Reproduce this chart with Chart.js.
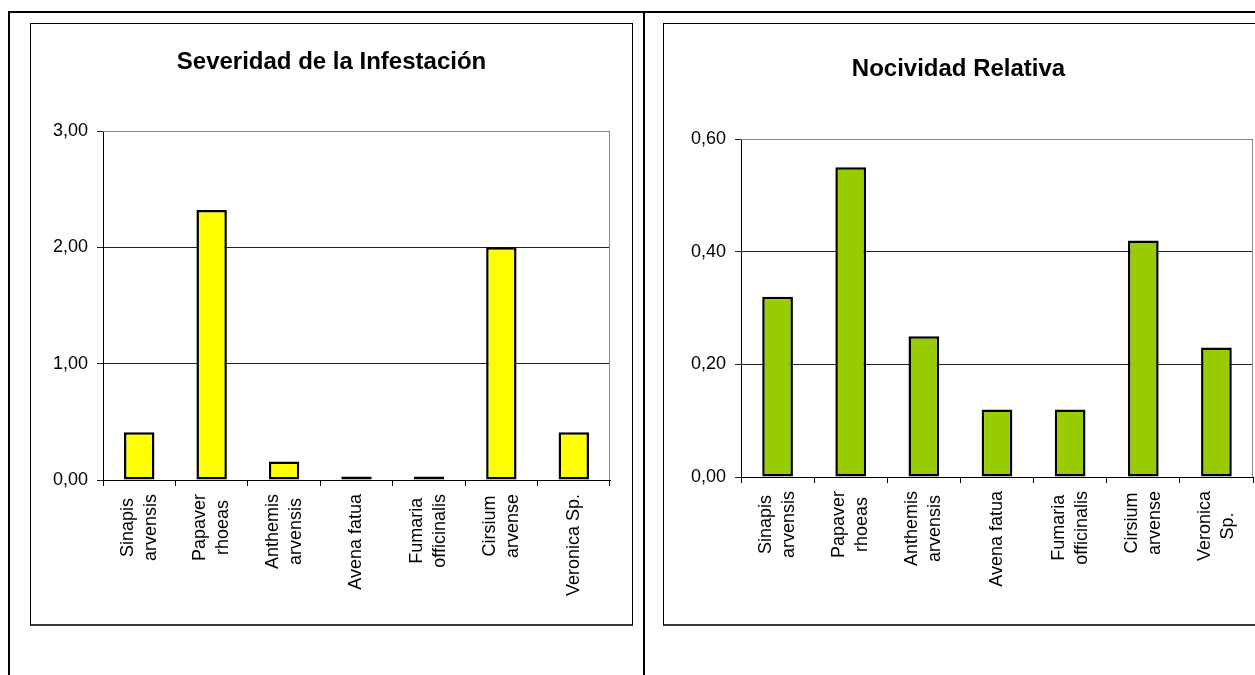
<!DOCTYPE html>
<html lang="es">
<head>
<meta charset="utf-8">
<title>Severidad y nocividad de malezas</title>
<script src="https://cdn.jsdelivr.net/npm/chart.js@4.4.1/dist/chart.umd.min.js"></script>
<style>
  html, body { margin: 0; padding: 0; background: #fff; overflow: hidden; }
  body { width: 1255px; height: 675px; position: relative; font-family: "Liberation Sans", Arial, sans-serif; }
  .rule { position: absolute; background: #000; }
  .box { position: absolute; top: 23px; height: 600px; border: 1px solid #000; border-bottom: 2px solid #3a3a3a; background: #fff; }
  .box canvas { display: block; }
</style>
</head>
<body>
  <!-- table lines around the two cells -->
  <div class="rule" style="left:8px; top:11px; width:1247px; height:2px;"></div>
  <div class="rule" style="left:8px; top:11px; width:2px; height:664px;"></div>
  <div class="rule" style="left:643px; top:11px; width:2px; height:664px;"></div>

  <div class="box" style="left:30px; width:601px;"><canvas id="severidad" width="601" height="600"></canvas></div>
  <div class="box" style="left:663px; width:611px;"><canvas id="nocividad" width="611" height="600"></canvas></div>

<script>
// species names, split in lines the way they are printed under each bar
const especiesSeveridad = [
  ["Sinapis", "arvensis"], ["Papaver", "rhoeas"], ["Anthemis", "arvensis"],
  ["Avena fatua"], ["Fumaria", "officinalis"], ["Cirsium", "arvense"], ["Veronica Sp."]
];
const especiesNocividad = [
  ["Sinapis", "arvensis"], ["Papaver", "rhoeas"], ["Anthemis", "arvensis"],
  ["Avena fatua"], ["Fumaria", "officinalis"], ["Cirsium", "arvense"], ["Veronica", "Sp."]
];

// values per species
const severidad = [0.41, 2.32, 0.16, 0.03, 0.03, 2.00, 0.41];
const nocividad = [0.32, 0.55, 0.25, 0.12, 0.12, 0.42, 0.23];

// value axis ranges
const severidadEje = [0, 3, 1];      // min, max, step
const nocividadEje = [0, 0.6, 0.2];

const FONT = "'Liberation Sans', Arial, sans-serif";
const coma = v => Number(v).toFixed(2).replace(".", ",");

// gray frame on top and right of the plot area
const marcoGris = {
  id: "marcoGris",
  beforeDatasetsDraw(chart) {
    const { ctx, chartArea: a } = chart;
    ctx.save();
    ctx.strokeStyle = "#8a8a8a";
    ctx.lineWidth = 1;
    ctx.beginPath();
    ctx.moveTo(a.left, a.top + 0.5);
    ctx.lineTo(a.right - 0.5, a.top + 0.5);
    ctx.lineTo(a.right - 0.5, a.bottom);
    ctx.stroke();
    ctx.restore();
  }
};

// rotated category names: block starts under the axis, lines centred inside it
const nombresGirados = {
  id: "nombresGirados",
  afterDraw(chart, args, opts) {
    const { ctx } = chart;
    const x = chart.scales.x;
    ctx.save();
    ctx.font = opts.size + "px " + FONT;
    ctx.fillStyle = "#000";
    ctx.textAlign = "center";
    ctx.textBaseline = "middle";
    chart.data.labels.forEach((lineas, i) => {
      const px = x.getPixelForTick(i);
      const ancho = Math.max(...lineas.map(l => ctx.measureText(l).width));
      ctx.save();
      ctx.translate(px, x.top + opts.gap);
      ctx.rotate(-Math.PI / 2);
      lineas.forEach((l, j) => {
        ctx.fillText(l, -ancho / 2, (j - (lineas.length - 1) / 2) * opts.lineHeight);
      });
      ctx.restore();
    });
    ctx.restore();
  }
};

function graficoBarras(id, titulo, etiquetas, valores, eje, color, caja) {
  return new Chart(document.getElementById(id), {
    type: "bar",
    data: {
      labels: etiquetas,
      datasets: [{
        data: valores,
        backgroundColor: color,
        borderColor: "#000",
        borderWidth: 2.5,
        borderSkipped: false,
        inflateAmount: 0,
        categoryPercentage: 1,
        barPercentage: 0.42
      }]
    },
    options: {
      responsive: false,
      animation: false,
      events: [],
      layout: { padding: { left: caja.padL, right: caja.padR, top: 0, bottom: 0 } },
      plugins: {
        legend: { display: false },
        tooltip: { enabled: false },
        title: {
          display: true,
          text: titulo,
          color: "#000",
          font: { family: FONT, size: 24, weight: "bold", lineHeight: 1.2 },
          padding: { top: caja.tituloArriba, bottom: caja.tituloAbajo }
        },
        nombresGirados: { size: 18, gap: 14, lineHeight: 23 }
      },
      scales: {
        x: {
          ticks: { display: false },
          grid: { drawOnChartArea: false, drawTicks: true, tickLength: 6, color: "#000", offset: true },
          border: { color: "#000", width: 1 },
          afterFit: s => { s.height = caja.alto - caja.abajo; }
        },
        y: {
          min: eje[0],
          max: eje[1],
          ticks: {
            stepSize: eje[2],
            padding: 9,
            color: "#000",
            font: { family: FONT, size: 18 },
            callback: coma
          },
          grid: { color: "#222", tickLength: 6 },
          border: { color: "#000", width: 1 },
          afterFit: s => { s.width = caja.izq - caja.padL; }
        }
      }
    },
    plugins: [marcoGris, nombresGirados]
  });
}

graficoBarras("severidad", "Severidad de la Infestación", especiesSeveridad, severidad, severidadEje, "#ffff00",
  { padL: 22, padR: 22, izq: 72, abajo: 456, alto: 600, tituloArriba: 23.6, tituloAbajo: 54.6 });

graficoBarras("nocividad", "Nocividad Relativa", especiesNocividad, nocividad, nocividadEje, "#99cc00",
  { padL: 0, padR: 22, izq: 77, abajo: 453, alto: 600, tituloArriba: 30.6, tituloAbajo: 55.6 });
</script>
</body>
</html>
